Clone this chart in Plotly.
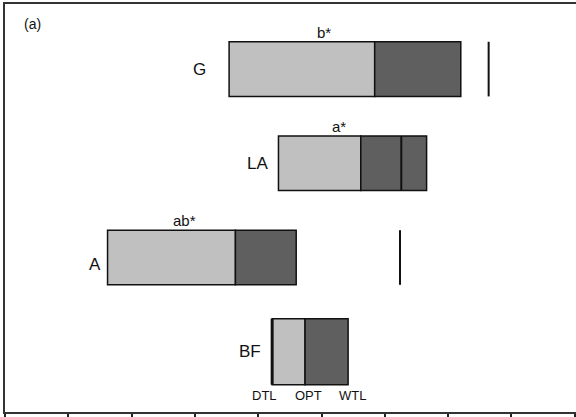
import plotly.graph_objects as go

# ---- data ----
groups = ["BF", "A", "LA", "G"]          # bottom -> top
dtl = [21.1, 8.1, 21.6, 17.7]
opt = [23.7, 18.2, 28.1, 29.2]
wtl = [27.1, 23.0, 33.3, 36.0]
extra_line = [21.1, 31.2, 31.3, 38.2]     # vertical reference line per group
sig = ["", "ab*", "a*", "b*"]
end_labels = ["DTL", "OPT", "WTL"]
x_ticks = [0, 5, 10, 15, 20, 25, 30, 35, 40, 45]

# ---- styling ----
light = "#c0c0c0"
dark = "#5f5f5f"
font = "Liberation Sans, Arial, sans-serif"
bar_w = [0.70, 0.58, 0.58, 0.58]
name_gap = [9, 5, 8, 21]
name_yshift = [0, -7, 0, 0]
extra_lw = [3, 2, 2, 2]

ypos = list(range(len(groups)))

fig = go.Figure()
fig.add_trace(go.Bar(
    y=ypos, x=[o - d for o, d in zip(opt, dtl)], base=dtl, orientation="h",
    width=bar_w, marker=dict(color=light, line=dict(color="#111", width=1.5)),
    showlegend=False, hoverinfo="skip"))
fig.add_trace(go.Bar(
    y=ypos, x=[w - o for w, o in zip(wtl, opt)], base=opt, orientation="h",
    width=bar_w, marker=dict(color=dark, line=dict(color="#111", width=1.5)),
    showlegend=False, hoverinfo="skip"))

for i, g in enumerate(groups):
    h = bar_w[i] / 2
    fig.add_shape(type="line", x0=extra_line[i], x1=extra_line[i],
                  y0=ypos[i] - h, y1=ypos[i] + h, xref="x", yref="y",
                  line=dict(color="#111", width=extra_lw[i]))
    fig.add_annotation(x=dtl[i], y=ypos[i], text=g, showarrow=False,
                       xanchor="right", yanchor="middle", xshift=-name_gap[i],
                       yshift=name_yshift[i],
                       font=dict(family=font, size=17, color="#111"))
    if sig[i]:
        fig.add_annotation(x=dtl[i] + 0.41 * (wtl[i] - dtl[i]), y=ypos[i] + h,
                           text=sig[i], showarrow=False, xanchor="center",
                           yanchor="bottom", yshift=-1,
                           font=dict(family=font, size=15, color="#111"))

# DTL / OPT / WTL labels under the BF bar
bf = groups.index("BF")
shifts = [-8, 3, 4]
for lab, xv, s in zip(end_labels, [dtl[bf], opt[bf], wtl[bf]], shifts):
    fig.add_annotation(x=xv, y=ypos[bf] - bar_w[bf] / 2, text=lab, showarrow=False,
                       xanchor="center", yanchor="top", xshift=s, yshift=-1,
                       font=dict(family=font, size=13, color="#111"))

fig.add_annotation(xref="paper", yref="paper", x=0.03, y=0.975, text="(a)",
                   showarrow=False, xanchor="left", yanchor="top",
                   font=dict(family=font, size=14, color="#111"))

fig.update_layout(
    width=576, height=417, barmode="overlay",
    margin=dict(l=5, r=0, t=4, b=5),
    plot_bgcolor="white", paper_bgcolor="white",
    xaxis=dict(range=[0, 45.1], tickvals=x_ticks, ticks="outside", ticklen=6,
               tickwidth=1.5, tickcolor="#222", showticklabels=False,
               showgrid=False, zeroline=False, showline=True, linecolor="#333",
               linewidth=2, mirror=True),
    yaxis=dict(range=[-0.640, 3.691], showticklabels=False, showgrid=False,
               zeroline=False, showline=True, linecolor="#333", linewidth=2,
               ticks=""),
)

fig.write_html("out.html", config={"displayModeBar": False},
               post_script="document.body.style.margin='0';")
